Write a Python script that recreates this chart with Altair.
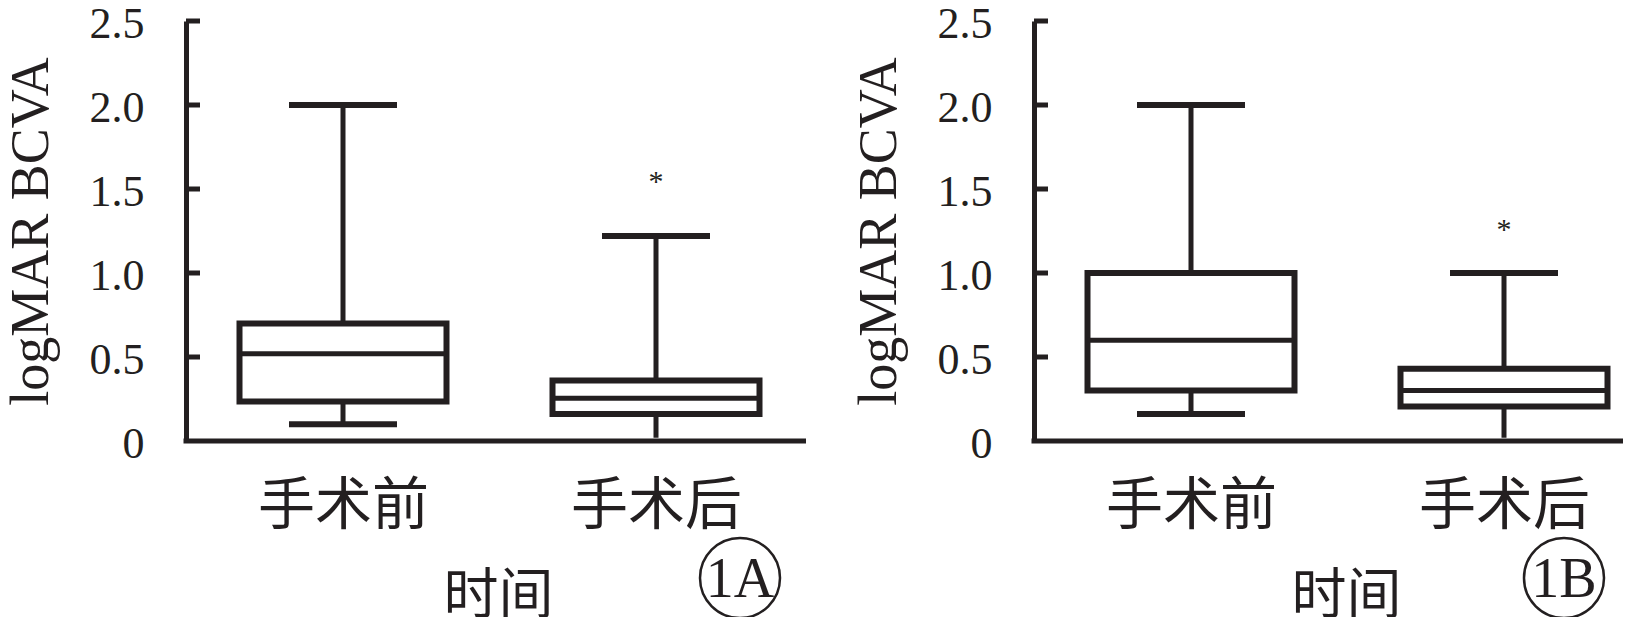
import altair as alt
import pandas as pd

# ---- data ----
groups = ["手术前", "手术后"]

a_lo = [0.10, 0.02]
a_q1 = [0.235, 0.16]
a_med = [0.52, 0.255]
a_q3 = [0.70, 0.36]
a_hi = [2.00, 1.22]
a_out = [1.58]

b_lo = [0.16, 0.02]
b_q1 = [0.30, 0.205]
b_med = [0.60, 0.30]
b_q3 = [1.00, 0.43]
b_hi = [2.00, 1.00]
b_out = [1.29]

low_cap = [True, False]  # lower whisker drawn with a cap or not
y_ticks = [0, 0.5, 1.0, 1.5, 2.0, 2.5]
panel_tags = ["1A", "1B"]

INK = "#231f20"
SERIF = "Liberation Serif"
CJK = "Noto Sans CJK SC"
W_LEFT, W_RIGHT, H = 620, 589, 420


def panel(lo, q1, med, q3, hi, out, tag, width, tag_x):
    df = pd.DataFrame(
        {"g": groups, "lo": lo, "q1": q1, "med": med, "q3": q3, "hi": hi, "cap": low_cap}
    )
    odf = pd.DataFrame({"g": [groups[1]] * len(out), "v": out})
    tdf = pd.DataFrame({"t": [t for t in y_ticks if t > 0]})

    x = alt.X(
        "g:N",
        sort=groups,
        scale=alt.Scale(type="point", domain=groups, range=[157, 470], padding=0),
        axis=alt.Axis(
            title="时间",
            titleFont=CJK,
            titleFontSize=55,
            titleFontWeight="normal",
            titleColor=INK,
            titleX=312,
            titleAlign="center",
            titlePadding=35,
            labelFont=CJK,
            labelFontSize=57,
            labelColor=INK,
            labelAngle=0,
            labelPadding=37,
            ticks=False,
            tickSize=0,
            domain=False,
            grid=False,
        ),
    )
    yscale = alt.Scale(domain=[0, 2.5], nice=False, zero=True)
    yaxis = alt.Axis(
        values=y_ticks,
        labelExpr="datum.value == 0 ? '0' : format(datum.value, '.1f')",
        labelFont=SERIF,
        labelFontSize=44,
        labelColor=INK,
        labelPadding=42,
        labelOffset=3,
        ticks=False,
        tickSize=0,
        domainColor=INK,
        domainWidth=5,
        grid=False,
        title="logMAR BCVA",
        titleFont=SERIF,
        titleFontSize=54,
        titleFontWeight="normal",
        titleColor=INK,
        titleAngle=270,
        titleX=-155,
        titleY=H / 2,
        titleAlign="center",
        titleBaseline="middle",
    )

    base = alt.Chart(df)
    whisk = base.mark_rule(color=INK, strokeWidth=5).encode(
        x=x, y=alt.Y("lo:Q", scale=yscale, axis=yaxis), y2="hi:Q"
    )
    box = base.mark_bar(size=207, fill="white", stroke=INK, strokeWidth=6).encode(
        x=x, y=alt.Y("q1:Q", scale=yscale), y2="q3:Q"
    )
    medl = base.mark_tick(size=207, thickness=5, color=INK, opacity=1).encode(
        x=x, y=alt.Y("med:Q", scale=yscale)
    )
    capl = base.transform_filter("datum.cap").mark_tick(
        size=108, thickness=6, color=INK, opacity=1
    ).encode(x=x, y=alt.Y("lo:Q", scale=yscale))
    caph = base.mark_tick(size=108, thickness=6, color=INK, opacity=1).encode(
        x=x, y=alt.Y("hi:Q", scale=yscale)
    )
    star = alt.Chart(odf).mark_text(
        text="*", font=SERIF, fontSize=30, color=INK, baseline="alphabetic", dy=15
    ).encode(x=x, y=alt.Y("v:Q", scale=yscale))
    ticks = alt.Chart(tdf).mark_rule(color=INK, strokeWidth=5).encode(
        y=alt.Y("t:Q", scale=yscale), x=alt.value(0), x2=alt.value(14)
    )
    xline = alt.Chart(pd.DataFrame({"z": [0]})).mark_rule(color=INK, strokeWidth=5).encode(
        y=alt.Y("z:Q", scale=yscale), x=alt.value(-2.5), x2=alt.value(width)
    )
    tagdf = pd.DataFrame({"tag": [tag]})
    ring = alt.Chart(tagdf).mark_point(
        shape="circle", size=6400, filled=False, stroke=INK, strokeWidth=2.5, opacity=1
    ).encode(x=alt.value(tag_x), y=alt.value(557))
    tagtxt = alt.Chart(tagdf).mark_text(
        font=SERIF, fontSize=56, color=INK, baseline="middle", align="center", dy=2
    ).encode(text="tag:N", x=alt.value(tag_x), y=alt.value(557))
    return alt.layer(
        whisk, box, medl, capl, caph, star, ticks, xline, ring, tagtxt
    ).properties(width=width, height=H, view=alt.ViewBackground(stroke="transparent", strokeWidth=0))


left = panel(a_lo, a_q1, a_med, a_q3, a_hi, a_out, panel_tags[0], W_LEFT, 554)
right = panel(b_lo, b_q1, b_med, b_q3, b_hi, b_out, panel_tags[1], W_RIGHT, 530)

chart = (
    alt.hconcat(left, right, spacing=43)
    .properties(padding={"left": -4, "top": -6, "right": 0, "bottom": -6})
    .configure_view(stroke="transparent", strokeWidth=0)
    .configure(background="white")
)

chart.save("out.html", embed_options={"renderer": "svg", "actions": False})
